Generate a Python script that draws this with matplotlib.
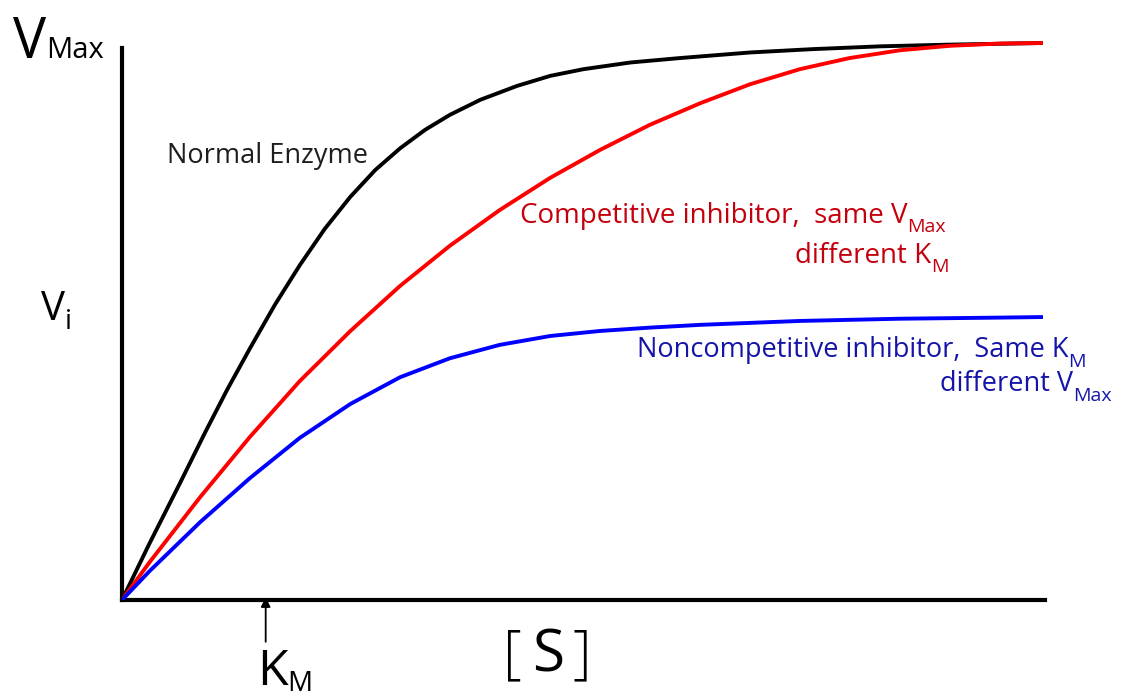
import matplotlib
matplotlib.use("Agg")
import matplotlib.pyplot as plt

plt.rcParams['font.family'] = ['Open Sans', 'DejaVu Sans']

W, H = 1121, 700

# curves: [S] on 0..100, rate with Vmax = 1
normal_s = [0, 3.0, 6.3, 9.0, 11.4, 13.9, 16.6, 19.3, 22.0, 24.8, 27.5, 30.2, 32.9,
            35.6, 38.9, 42.9, 46.5, 50.1, 55.2, 60.6, 68.2, 75.0, 82.3, 89.6, 100]
normal_v = [0, 0.102, 0.210, 0.300, 0.377, 0.452, 0.530, 0.601, 0.666, 0.724, 0.772,
            0.811, 0.844, 0.871, 0.898, 0.923, 0.941, 0.953, 0.965, 0.973, 0.983,
            0.989, 0.994, 0.997, 1.0]

comp_s = [0, 3.0, 8.5, 13.9, 19.3, 24.8, 30.2, 35.6, 41.0, 46.5, 51.9, 57.3, 62.8,
          68.2, 73.6, 79.0, 84.5, 89.9, 95.3, 100]
comp_v = [0, 0.068, 0.185, 0.293, 0.393, 0.483, 0.564, 0.636, 0.700, 0.758, 0.808,
          0.853, 0.892, 0.926, 0.953, 0.973, 0.987, 0.995, 0.999, 1.0]

noncomp_s = [0, 3.0, 8.5, 13.9, 19.3, 24.8, 30.2, 35.6, 41.0, 46.5, 51.9, 57.3, 62.8,
             73.6, 84.5, 95.3, 100]
noncomp_v = [0, 0.052, 0.140, 0.219, 0.291, 0.352, 0.400, 0.434, 0.458, 0.474, 0.483,
             0.489, 0.494, 0.501, 0.505, 0.507, 0.508]

km_s = 15.6

fig = plt.figure(figsize=(W / 100, H / 100), dpi=100)
ax = fig.add_axes([122 / W, 100 / H, 921 / W, 560 / H])
ax.set_xlim(0, 100)
ax.set_ylim(0, 560 / 557)

for s, v, c in [(normal_s, normal_v, 'black'),
                (comp_s, comp_v, '#ff0000'),
                (noncomp_s, noncomp_v, '#0000ff')]:
    ax.plot(s, v, color=c, lw=2.8, solid_capstyle='round',
            solid_joinstyle='round', zorder=3)

for side in ['top', 'right']:
    ax.spines[side].set_visible(False)
ax.spines['left'].set_linewidth(3)
ax.spines['bottom'].set_linewidth(3)
ax.spines['left'].set_bounds(0, 552 / 557)
ax.spines['bottom'].set_bounds(0, 100.2)
ax.set_xticks([])
ax.set_yticks([])

# Km arrow
ax.annotate('', xy=(km_s, 0.005), xytext=(km_s, -0.075),
            arrowprops=dict(arrowstyle='-|>', color='black', lw=1.3,
                            mutation_scale=14, shrinkA=0, shrinkB=0),
            annotation_clip=False)

fig.canvas.draw()
renderer = fig.canvas.get_renderer()


def runs(x, y, parts, color='black', weight='normal'):
    """parts: (text, fontsize, baseline shift in px); x, y in picture px."""
    cx = x
    for txt, size, dy in parts:
        t = fig.text(cx / W, 1 - (y + dy) / H, txt, fontsize=size, color=color,
                     ha='left', va='baseline', fontweight=weight)
        cx += t.get_window_extent(renderer=renderer).width


runs(13, 58, [('V', 40, 0), ('Max', 21, 0)])
runs(41, 320, [('V', 29, 0), ('i', 20, 9)])
runs(257, 685, [('K', 36, 0), ('M', 20, 6)])

fig.text(503 / W, 1 - 671 / H, '[', fontsize=42, fontweight='light', ha='left', va='baseline')
fig.text(532 / W, 1 - 671 / H, 'S', fontsize=42, ha='left', va='baseline')
fig.text(572 / W, 1 - 671 / H, ']', fontsize=42, fontweight='light', ha='left', va='baseline')

fig.text(167 / W, 1 - 163 / H, 'Normal Enzyme', fontsize=19.5, color='#1e1e1e',
         ha='left', va='baseline')

red_txt = '#c4000c'
runs(520, 223, [('Competitive inhibitor,  same V', 20, 0), ('Max', 14, 9)], red_txt, 'medium')
runs(795, 263, [('different K', 20, 0), ('M', 14, 9)], red_txt, 'medium')

blue_txt = '#1414a8'
runs(637, 357, [('Noncompetitive inhibitor,  Same K', 19.5, 0), ('M', 14, 10)], blue_txt, 'medium')
runs(940, 391, [('different V', 19.5, 0), ('Max', 14, 10)], blue_txt, 'medium')

fig.savefig('out.png', dpi=100)
